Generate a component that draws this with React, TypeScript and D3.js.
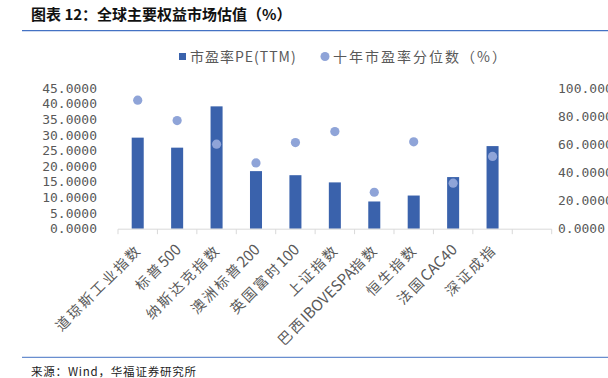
import React from 'react';
import * as d3 from 'd3';

const categories = ['道琼斯工业指数', '标普500', '纳斯达克指数', '澳洲标普200', '英国富时100', '上证指数', '巴西IBOVESPA指数', '恒生指数', '法国CAC40', '深证成指'];
const peValues = [29.1, 25.9, 39.1, 18.4, 17.1, 14.8, 8.7, 10.6, 16.5, 26.4];
const pctValues = [91.3, 76.8, 60.0, 46.7, 61.2, 69.0, 25.9, 61.7, 32.3, 51.3];
const leftTicks = [0, 5, 10, 15, 20, 25, 30, 35, 40, 45];
const rightTicks = [0, 20, 40, 60, 80, 100];
const seriesNames = ['市盈率PE(TTM)', '十年市盈率分位数（%）'];
const title = '图表 12：全球主要权益市场估值（%）';
const source = '来源：Wind，华福证券研究所';

const BAR = '#3A62AC';
const DOT = '#8FA4D8';
const TXT = '#595959';
const CJK = '"Noto Sans CJK SC", "Noto Sans", sans-serif';
const MONO = '"DejaVu Sans Mono", monospace';

function splitRuns(s: string) {
  const runs: { t: string; cjk: boolean }[] = [];
  for (const ch of s) {
    const cjk = /[\u3000-\u9fff\uff00-\uffef]/.test(ch);
    const last = runs[runs.length - 1];
    if (last && last.cjk === cjk) last.t += ch;
    else runs.push({ t: ch, cjk });
  }
  return runs;
}

export default function App() {
  const W = 608, H = 378;
  const plotLeft = 118, plotRight = 551.7, y0 = 228.7, yTop = 87.9;
  const slots = [...categories, ''];
  const x = d3.scaleBand<string>().domain(slots).range([plotLeft, plotRight]).paddingInner(0.695).paddingOuter(0.3475);
  const step = x.step();
  const yL = d3.scaleLinear().domain([0, 45]).range([y0, yTop]);
  const yR = d3.scaleLinear().domain([0, 100]).range([y0, yTop]);
  const fmt = d3.format('.4f');
  const boundaries = d3.range(slots.length + 1).map(i => plotLeft + i * step);

  return (
    <div style={{ position: 'absolute', left: 0, top: 0, width: W, height: H, background: '#fff' }}>
      <svg width={W} height={H} style={{ display: 'block' }}>
        <rect width={W} height={H} fill="#fff" />
        <text x={31} y={19.5} fontFamily={CJK} fontWeight="bold" fontSize={15} fill="#111">{title}</text>
        <line x1={22} x2={W} y1={30.7} y2={30.7} stroke="#4472C4" strokeWidth={1.3} />

        {/* legend */}
        <rect x={179} y={53} width={7} height={7} fill={BAR} />
        <text x={190} y={61.5} fontFamily={CJK} fontSize={14} letterSpacing={1} fill={TXT}>{seriesNames[0]}</text>
        <circle cx={325} cy={56.5} r={4.5} fill={DOT} />
        <text x={333} y={61.5} fontFamily={CJK} fontSize={14} letterSpacing={2} fill={TXT}>{seriesNames[1]}</text>

        {/* left axis labels */}
        {leftTicks.map(t => (
          <text key={'l' + t} x={97} y={yL(t)} dy="0.36em" textAnchor="end" fontFamily={MONO} fontSize={13} fill={TXT}>{fmt(t)}</text>
        ))}
        {/* right axis labels */}
        {rightTicks.map(t => (
          <text key={'r' + t} x={558} y={yR(t)} dy="0.36em" textAnchor="start" fontFamily={MONO} fontSize={13} fill={TXT}>{fmt(t)}</text>
        ))}

        {/* bars */}
        {categories.map((c, i) => (
          <rect key={'b' + c} x={x(c)} y={yL(peValues[i])} width={x.bandwidth()} height={y0 - yL(peValues[i])} fill={BAR} />
        ))}
        {/* dots */}
        {categories.map((c, i) => (
          <circle key={'d' + c} cx={(x(c) as number) + x.bandwidth() / 2} cy={yR(pctValues[i])} r={4.6} fill={DOT} />
        ))}

        {/* x axis */}
        <line x1={plotLeft} x2={plotRight} y1={y0 + 0.5} y2={y0 + 0.5} stroke="#D9D9D9" strokeWidth={1} />
        {boundaries.map((b, i) => (
          <line key={'t' + i} x1={b} x2={b} y1={y0 + 0.5} y2={y0 + 5.5} stroke="#D9D9D9" strokeWidth={1} />
        ))}
        {categories.map(c => {
          const cx = (x(c) as number) + x.bandwidth() / 2 + 5;
          const cy = y0 + 22;
          return (
            <text key={'c' + c} transform={`translate(${cx},${cy}) rotate(-45)`} textAnchor="end" fontFamily={CJK} fill={TXT}>
              {splitRuns(c).map((r, k) => (
                <tspan key={k} fontSize={r.cjk ? 14 : 15} letterSpacing={r.cjk ? 2.4 : 0}>{r.t}</tspan>
              ))}
            </text>
          );
        })}

        <line x1={22} x2={W} y1={357.3} y2={357.3} stroke="#4472C4" strokeWidth={1.3} opacity={0.8} />
        <text x={31} y={376} fontFamily={CJK} fontSize={11.5} letterSpacing={0.8} fill="#222">{source}</text>
      </svg>
    </div>
  );
}
